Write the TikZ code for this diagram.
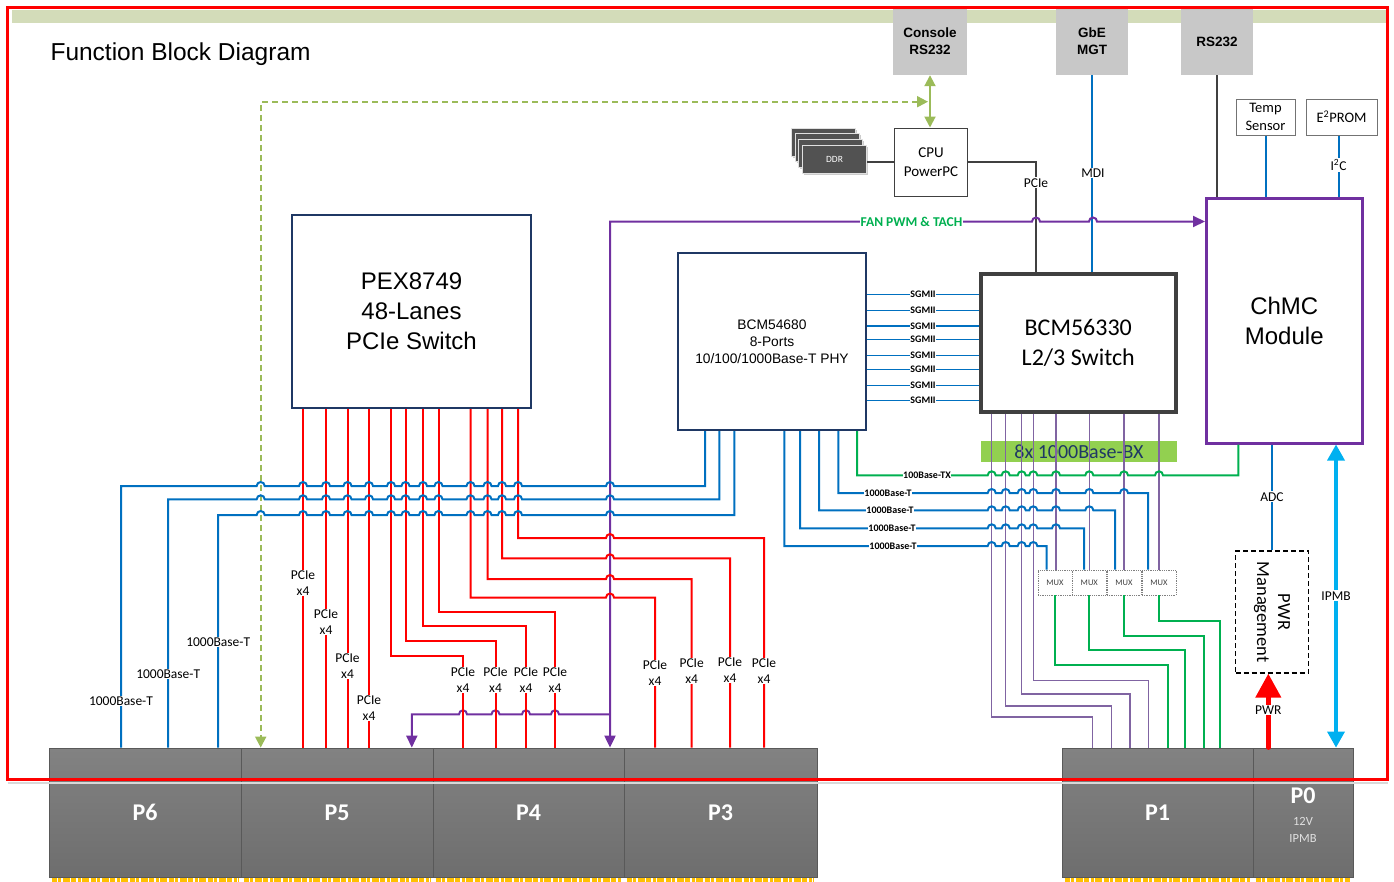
\documentclass[tikz,border=0pt]{standalone}
\usepackage{fontspec}
\setmainfont{Carlito}
\newfontfamily\arialfont{Liberation Sans}
\usetikzlibrary{arrows.meta,shadows}

\definecolor{lnblue}{HTML}{0070C0}
\definecolor{lnred}{HTML}{FF0000}
\definecolor{fanpurple}{HTML}{7030A0}
\definecolor{bxpurple}{HTML}{8064A2}
\definecolor{lngreen}{HTML}{00B050}
\definecolor{olivegrn}{HTML}{9BBB59}
\definecolor{pexnavy}{HTML}{1F3864}
\definecolor{band}{HTML}{D3DCB9}
\definecolor{boxgray}{HTML}{C8C8C8}
\definecolor{pingold}{HTML}{FFC000}
\definecolor{skyblue}{HTML}{00B0F0}
\definecolor{bxgreen}{HTML}{92D050}

\begin{document}
\begin{tikzpicture}[x=1pt,y=-1pt,>={Triangle[length=12pt,width=11pt]},
                    font=\fontsize{13.5}{16}\selectfont]
  \tikzstyle{chip}=[draw=pexnavy,line width=2pt,fill=white,inner sep=0pt,align=center,
      anchor=north west,font=\arialfont\fontsize{24}{30}\selectfont]
  \tikzstyle{graybox}=[fill=boxgray,inner sep=0pt,align=center,
      font=\arialfont\bfseries\fontsize{13.5}{17}\selectfont]
  \tikzstyle{smallbox}=[draw=black!55,line width=1pt,fill=white,align=center,inner sep=0pt,
      font=\fontsize{14.5}{18.5}\selectfont]
  \tikzstyle{conn}=[draw=black!65,line width=0.8pt,top color=black!49,bottom color=black!57,
      inner sep=0pt,minimum height=129pt,text=white,font=\bfseries\fontsize{24}{26}\selectfont]
  \tikzstyle{ddrcard}=[fill=black!68,draw=black!12,line width=1pt,
      drop shadow={shadow xshift=1.5pt,shadow yshift=-1.5pt,fill=black!40,opacity=.5}]
  \tikzstyle{muxbox}=[draw=black!50,densely dotted,line width=.8pt,fill=white,minimum width=34pt,
      minimum height=25pt,inner sep=0pt,text=black!75,font=\fontsize{8.5}{9}\selectfont]
  \tikzstyle{eth}=[draw=lnblue,line width=2pt]
  \tikzstyle{sgline}=[draw=lnblue,line width=1.6pt]
  \tikzstyle{pcie}=[draw=lnred,line width=2pt]
  \tikzstyle{fan}=[draw=fanpurple,line width=2pt]
  \tikzstyle{bx}=[draw=bxpurple,line width=1.5pt]
  \tikzstyle{gbx}=[draw=lngreen,line width=1.8pt]
  \tikzstyle{lbl}=[fill=white,inner sep=1pt,align=center]
  \tikzstyle{lbltiny}=[fill=white,inner sep=0.6pt,font=\bfseries\fontsize{10}{11}\selectfont]

  \useasboundingbox (0,0) rectangle (1394,881);

  % header band and outside connectors
  \fill[band] (12,9.5) rectangle (1386,22.5);
  \node[anchor=base west,font=\arialfont\fontsize{24.5}{28}\selectfont] (title) at (47,60) {Function Block Diagram};
  \node[graybox,minimum width=74pt,minimum height=67pt] (console) at (930,41.5) {Console\\RS232};
  \node[graybox,minimum width=72pt,minimum height=67pt] (gbe) at (1092,41.5) {GbE\\MGT};
  \node[graybox,minimum width=72pt,minimum height=67pt] (rs) at (1217,41.5) {RS232};

  % backplane connectors
  \node[conn,minimum width=192pt] (p6) at (145,812.5) {P6};
  \node[conn,minimum width=192pt] (p5) at (337,812.5) {P5};
  \node[conn,minimum width=191pt] (p4) at (528.5,812.5) {P4};
  \node[conn,minimum width=193pt] (p3) at (720.5,812.5) {P3};
  \node[conn,minimum width=191pt] (p1) at (1157.5,812.5) {P1};
  \node[conn,minimum width=100pt] (p0) at (1303,812.5) {};
  \node[text=white,font=\bfseries\fontsize{24}{26}\selectfont] (p0lbl) at (1303,796) {P0};
  \node[text=white!88!black,font=\fontsize{12.5}{14}\selectfont] (p0v) at (1303,821) {12V};
  \node[text=white!88!black,font=\fontsize{12.5}{14}\selectfont] (p0i) at (1303,838) {IPMB};
  \foreach \p in {p6,p5,p4,p3,p1,p0}
    \draw[pingold,line width=4.5pt,dash pattern=on 5pt off 1.5pt on 3pt off 1.5pt on 7pt off 1.5pt]
      ([xshift=3pt,yshift=-2.6pt]\p.south west) -- ([xshift=-3pt,yshift=-2.6pt]\p.south east);

  % board outline
  \draw[black!15,line width=2pt] (7.5,782.5) -- (1387.5,782.5);
  \draw[lnred,line width=2.5pt] (7.5,7.5) rectangle (1387.5,779.5);

  % chips
  \node[chip,minimum width=239pt,minimum height=193pt] (pex) at (291,214) {PEX8749\\48-Lanes\\PCIe Switch};
  \node[chip,minimum width=188pt,minimum height=177pt,font=\arialfont\fontsize{13.8}{17}\selectfont]
    (phy) at (677,252) {BCM54680\\8-Ports\\10/100/1000Base-T PHY};
  \node[chip,draw=black!75,line width=3.5pt,minimum width=195pt,minimum height=138pt,
    font=\fontsize{24}{30}\selectfont] (l2sw) at (979,272) {BCM56330\\L2/3 Switch};
  \node[chip,draw=fanpurple,line width=2.5pt,minimum width=156pt,minimum height=245pt] (chmc) at (1205,197) {ChMC\\Module};
  \node[draw=black!75,line width=1pt,fill=white,align=center,minimum width=73pt,minimum height=68pt,
    inner sep=0pt,font=\fontsize{15}{19}\selectfont] (cpu) at (931,162) {CPU\\PowerPC};
  \foreach \i in {0,1,2}
    \draw[ddrcard] (791.5+3.5*\i,128+5.7*\i) rectangle +(64,28);
  \node[ddrcard,anchor=north west,minimum width=64pt,minimum height=28pt,inner sep=0pt,text=white,
    font=\fontsize{9.5}{10}\selectfont] (ddr) at (802,145) {DDR};
  \node[smallbox,minimum width=59pt,minimum height=36pt] (temp) at (1265.5,117) {Temp\\Sensor};
  \node[smallbox,minimum width=71pt,minimum height=36pt] (eeprom) at (1341.5,117) {E\textsuperscript{2}PROM};
  \node[fill=bxgreen,minimum width=196pt,minimum height=21pt,inner sep=0pt,text=pexnavy,
    font=\fontsize{20}{22}\selectfont] (bxbox) at (1079,451.5) {8x 1000Base-BX};
  \foreach \m/\mx in {mux1/1055,mux2/1089.3,mux3/1124,mux4/1159}
    \node[muxbox] (\m) at (\mx,582.5) {MUX};
  \node[draw,dash pattern=on 5pt off 3pt,line width=1.3pt,minimum width=73pt,minimum height=122pt] (pwrm) at (1272,612) {};
  \node[rotate=-90,align=center,font=\fontsize{18.5}{21}\selectfont] (pwrtxt) at (pwrm.center) {PWR\\Management};

  % CPU side
  \draw[olivegrn,line width=2pt,dash pattern=on 6pt off 4pt,<->,>={Triangle[length=11pt,width=11pt]}]
    (928,101.7) -- (260.7,101.7) -- (260.7,0 |- p5.north);
  \draw[olivegrn,line width=2pt,<->,>={Triangle[length=11pt,width=11pt]}] (console.south) -- (console.south |- cpu.north);
  \draw[black!75,line width=1.2pt] (cpu.west) -- (cpu.west -| ddr.east);
  \draw[black!75,line width=1.5pt] (cpu.east) -| (1036,0 |- l2sw.north);
  \draw[eth] (gbe.south) -- (gbe.south |- l2sw.north);
  \draw[black!75,line width=2pt] (rs.south) -- (rs.south |- chmc.north);
  \draw[eth] (temp.south) -- (temp.south |- chmc.north);
  \draw[eth] (1338.5,0 |- eeprom.south) -- (1338.5,0 |- chmc.north);

  % fan control
  \draw[fan,<->] (610,0 |- p4.north) -- (610,221.5) -- (1032,221.5)
    arc[start angle=180,end angle=0,radius=4pt] -- (1089,221.5)
    arc[start angle=180,end angle=0,radius=4pt] -- (chmc.west |- 0,221.5);
  \draw[fan,<-] (411.8,0 |- p5.north) -- (411.8,714.3)
    \foreach \j in {463,495.5,526,555} {-- (\j-4,714.3) arc[start angle=180,end angle=0,radius=4pt]}
    -- (610,714.3);

  % PCIe lanes
  \foreach \s in {303,326,347.5,369}
    \draw[pcie] (\s,0 |- pex.south) -- (\s,0 |- p5.north);
  \foreach \s/\hy/\e in {391/656/463,405.5/641/495.5,423/626/526,438.5/612/555}
    \draw[pcie] (\s,0 |- pex.south) |- (\e,\hy) -- (\e,0 |- p4.north);
  \foreach \s/\hy/\e in {470.5/597.5/655,487.5/579/691.7,502/558.3/730,518/538/764}
    \draw[pcie] (\s,0 |- pex.south) -- (\s,\hy) -- (606,\hy)
      arc[start angle=180,end angle=0,radius=4pt] -- (\e,\hy) -- (\e,0 |- p3.north);

  % 1000Base-T to P6
  \foreach \s/\hy/\e in {121/486/705,168.2/499.3/719.3,218.2/515/734.3}
    \draw[eth] (\s,0 |- p6.north) -- (\s,\hy)
      \foreach \j in {260.7,303,326,347.5,369,391,405.5,423,438.5,470.5,487.5,502,518,610}
        {-- (\j-4,\hy) arc[start angle=180,end angle=0,radius=4pt]}
      -- (\e,\hy) -- (\e,0 |- phy.south);

  % SGMII
  \foreach \sy [count=\i] in {294.3,310.3,326,339.3,355.3,369.3,385.3,400.3}
    \draw[sgline] (phy.east |- 0,\sy) -- (l2sw.west |- 0,\sy) node[lbltiny,midway] (sg\i) {SGMII};

  % fibre ports through the MUXes
  \foreach \s/\hy/\e in {991.7/717/1092.7,1005.7/706/1111.7,1021.7/694/1130,1033.3/680.7/1148.3}
    \draw[bx] (\s,0 |- l2sw.south) |- (\e,\hy) -- (\e,0 |- p1.north);
  \foreach \s/\m in {1056/mux1,1089.3/mux2,1124/mux3,1159/mux4}
    \draw[bx] (\s,0 |- l2sw.south) -- (\s,0 |- \m.north);
  \foreach \m/\hy/\e in {mux1/665/1168.3,mux2/650/1185.3,mux3/636/1203.7,mux4/620.7/1220.3}
    \draw[gbx] (\m.south) |- (\e,\hy) -- (\e,0 |- p1.north);

  \draw[gbx,line width=2pt] (857,0 |- phy.south) -- (857,475.3)
    \foreach \j in {991.7,1005.7,1021.7,1033.3,1056,1089.3,1124,1159}
      {-- (\j-4,475.3) arc[start angle=180,end angle=0,radius=4pt]}
    -- (1238.3,475.3) -- (1238.3,0 |- chmc.south);
  \draw[eth] (838.3,0 |- phy.south) -- (838.3,493)
    \foreach \j in {991.7,1005.7,1021.7,1033.3,1056,1089.3,1124}
      {-- (\j-4,493) arc[start angle=180,end angle=0,radius=4pt]}
    -- (1148,493) -- (1148,0 |- mux4.north);
  \draw[eth] (819,0 |- phy.south) -- (819,510.3)
    \foreach \j in {991.7,1005.7,1021.7,1033.3,1056,1089.3}
      {-- (\j-4,510.3) arc[start angle=180,end angle=0,radius=4pt]}
    -- (1115,510.3) -- (1115,0 |- mux3.north);
  \draw[eth] (800,0 |- phy.south) -- (800,528.3)
    \foreach \j in {991.7,1005.7,1021.7,1033.3,1056}
      {-- (\j-4,528.3) arc[start angle=180,end angle=0,radius=4pt]}
    -- (1084,528.3) -- (1084,0 |- mux2.north);
  \draw[eth] (784.3,0 |- phy.south) -- (784.3,546)
    \foreach \j in {991.7,1005.7,1021.7,1033.3}
      {-- (\j-4,546) arc[start angle=180,end angle=0,radius=4pt]}
    -- (1046.7,546) -- (1046.7,0 |- mux1.north);

  % management
  \draw[eth] (pwrm.north |- chmc.south) -- (pwrm.north);
  \draw[lnred,line width=4.5pt,line cap=round,-{Triangle[length=24pt,width=25pt]}]
    (1268.3,0 |- p0.north) -- (1268.3,0 |- pwrm.south);
  \draw[skyblue,line width=3.5pt,{Triangle[length=16pt,width=17pt]}-{Triangle[length=16pt,width=17pt]}]
    (1336,0 |- chmc.south) -- (1336,0 |- p0.north);

  % labels on the lines
  \node[lbl] (pcielbl) at (1036,182.7) {PCIe};
  \node[lbl] (mdilbl) at (1093,173) {MDI};
  \node[lbl] (i2clbl) at (1338.5,165) {I\textsuperscript{2}C};
  \node[lbl,text=lngreen,font=\bfseries\fontsize{13.5}{14}\selectfont] (fanlbl) at (911.5,221.5) {FAN PWM \& TACH};
  \node[lbl] (t1lbl) at (121,701) {1000Base-T};
  \node[lbl] (t2lbl) at (168.2,674) {1000Base-T};
  \node[lbl] (t3lbl) at (218.2,642) {1000Base-T};
  \foreach \lx/\ly [count=\i] in {303/583,326/622,347.5/666,369/708,463/680,495.5/680,526/680,555/680,
                                   655/673,691.7/671,730/670,764/671}
    \node[lbl] (pl\i) at (\lx,\ly) {PCIe\\x4};
  \node[lbltiny] (txlbl) at (927,475.3) {100Base-TX};
  \node[lbltiny] (b1lbl) at (888,493) {1000Base-T};
  \node[lbltiny] (b2lbl) at (890,510.3) {1000Base-T};
  \node[lbltiny] (b3lbl) at (892,528.3) {1000Base-T};
  \node[lbltiny] (b4lbl) at (893,546) {1000Base-T};
  \node[lbl] (adclbl) at (1272,496.7) {ADC};
  \node[lbl] (ipmblbl) at (1336,595.7) {IPMB};
  \node[lbl] (pwrlbl) at (1268.3,710) {PWR};
\end{tikzpicture}
\end{document}
